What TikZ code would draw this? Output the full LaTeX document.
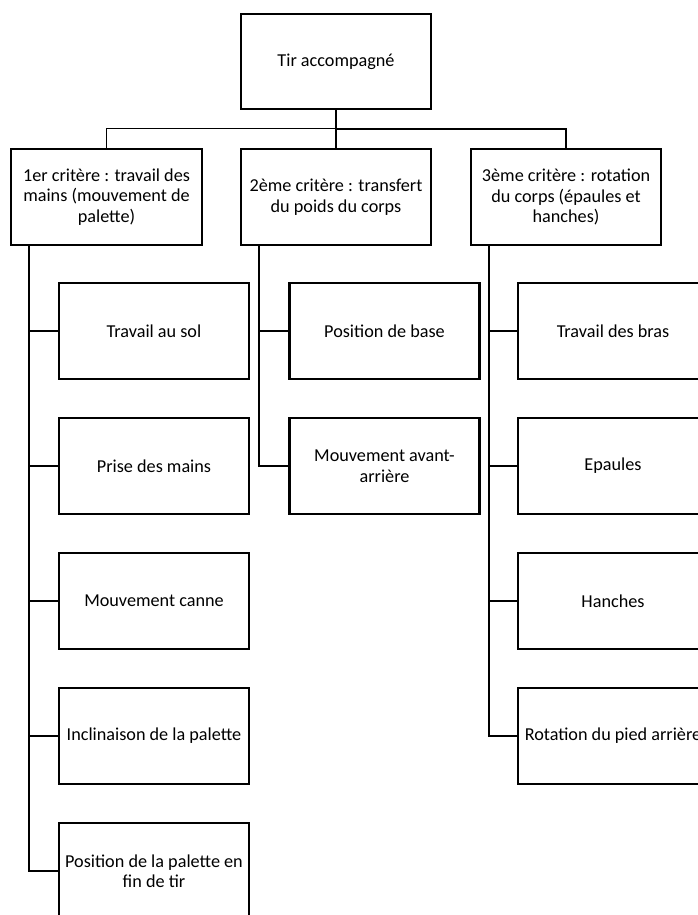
\documentclass[tikz,border=0pt]{standalone}
\usepackage{fontspec}
\setmainfont{Carlito}
\tikzset{
  box/.style={draw=black, line width=2.3pt, fill=white, minimum width=190pt, minimum height=95.5pt, inner sep=0pt, align=center, font=\fontsize{18.2}{20.5}\selectfont},
  thick link/.style={draw=black, line width=2.3pt},
  thin link/.style={draw=black, line width=1pt},
}
\begin{document}
\begin{tikzpicture}[x=1pt,y=-1pt]
\useasboundingbox (0,0) rectangle (698,915);
\clip (0,0) rectangle (698,915);
% top
\node[box] (top) at (336,61.5) {Tir accompagné};
% level 1
\node[box, minimum width=191pt] (a) at (106.5,197) {1er critère : travail des\\mains (mouvement de\\palette)};
\node[box] (b) at (336,197) {2ème critère : transfert\\du poids du corps};
\node[box] (c) at (566,197) {3ème critère : rotation\\du corps (épaules et\\hanches)};
% column 1
\node[box] (a1) at (154,331) {Travail au sol};
\node[box] (a2) at (154,466) {Prise des mains};
\node[box] (a3) at (154,601) {Mouvement canne};
\node[box] (a4) at (154,736) {Inclinaison de la palette};
\node[box] (a5) at (154,871) {Position de la palette en\\fin de tir};
% column 2
\node[box] (b1) at (384.5,331) {Position de base};
\node[box] (b2) at (384.5,466) {Mouvement avant-\\arrière};
% column 3
\node[box] (c1) at (613,331) {Travail des bras};
\node[box] (c2) at (613,466) {Epaules};
\node[box] (c3) at (613,601) {Hanches};
\node[box] (c4) at (613,736) {Rotation du pied arrière};
% top connectors
\coordinate (bar) at (336,129);
\draw[thin link] (bar) -| (a.north);
\draw[thick link] (top.south) -- (b.north);
\draw[thick link] (bar) -| (c.north);
% trunks
\coordinate (ta) at ([xshift=19pt]a.south west);
\coordinate (tb) at ([xshift=19pt]b.south west);
\coordinate (tc) at ([xshift=19pt]c.south west);
\foreach \n in {a1,a2,a3,a4,a5} \draw[thick link] (ta) |- (\n.west);
\foreach \n in {b1,b2} \draw[thick link] (tb) |- (\n.west);
\foreach \n in {c1,c2,c3,c4} \draw[thick link] (tc) |- (\n.west);
\end{tikzpicture}
\end{document}
